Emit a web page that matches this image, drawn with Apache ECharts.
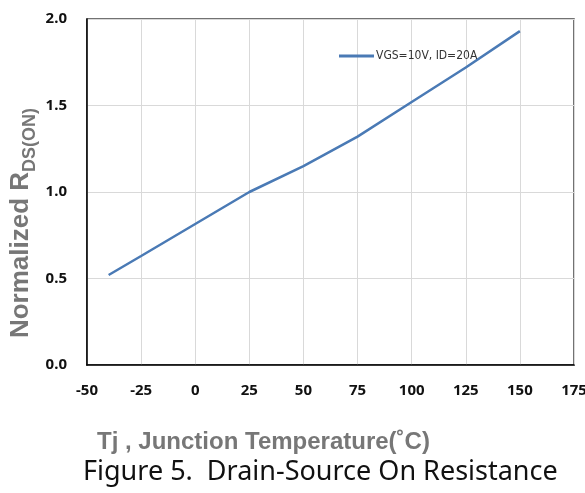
<!DOCTYPE html>
<html lang="en" style="height: 100%">
<head>
  <meta charset="utf-8">
</head>
<body style="height: 100%; margin: 0; background: #fff">
  <div id="container" style="width: 585px; height: 493px"></div>
  <script type="text/javascript" src="https://fastly.jsdelivr.net/npm/echarts@6/dist/echarts.min.js"></script>
  <script type="text/javascript">
    // Tj (°C) vs normalized Rds(on)
    const temps = [-40, -25, 0, 25, 50, 75, 100, 125, 150];
    const rdsOn = [0.52, 0.63, 0.815, 1.0, 1.15, 1.32, 1.52, 1.72, 1.93];
    const seriesName = 'VGS=10V, ID=20A';

    const narrow = '"DejaVu Sans Condensed", "Liberation Sans", sans-serif';

    var dom = document.getElementById('container');
    var myChart = echarts.init(dom, null, { renderer: 'canvas' });

    var option = {
      animation: false,
      title: [
        {
          text: 'Tj , Junction Temperature(˚C)',
          left: 92,
          top: 425,
          textStyle: { fontFamily: '"Liberation Sans", sans-serif', fontSize: 24, fontWeight: 'bold', color: '#777' }
        },
        {
          text: 'Figure 5.  Drain-Source On Resistance',
          left: 78,
          top: 454,
          textStyle: { fontFamily: '"Noto Sans", sans-serif', fontSize: 27, fontWeight: 'normal', color: '#111' }
        }
      ],
      legend: {
        left: 334,
        top: 45,
        itemWidth: 35,
        itemHeight: 3,
        itemGap: 3,
        icon: 'rect',
        data: [seriesName],
        textStyle: { fontFamily: narrow, fontSize: 12, color: '#333', padding: [0, 0, 0, -3] }
      },
      grid: {
        left: 87,
        top: 19,
        right: 11,
        bottom: 128,
        outerBoundsMode: 'none',
        containLabel: false,
        show: true,
        borderColor: '#444',
        borderWidth: 1.5
      },
      xAxis: {
        type: 'value',
        min: -50,
        max: 175,
        interval: 25,
        axisLine: { show: true, onZero: false, lineStyle: { color: '#000', width: 1.5 } },
        axisTick: { show: false },
        splitLine: { show: true, lineStyle: { color: '#d9d9d9', width: 1 } },
        axisLabel: {
          margin: 18,
          fontFamily: '"Noto Sans", sans-serif',
          fontSize: 15,
          fontWeight: 'bold',
          color: '#111'
        }
      },
      yAxis: {
        type: 'value',
        min: 0,
        max: 2,
        interval: 0.5,
        axisLine: { show: true, onZero: false, lineStyle: { color: '#000', width: 1.5 } },
        axisTick: { show: false },
        splitLine: { show: true, lineStyle: { color: '#d9d9d9', width: 1 } },
        axisLabel: {
          margin: 20,
          fontFamily: '"Noto Sans", sans-serif',
          fontSize: 15,
          fontWeight: 'bold',
          color: '#111',
          formatter: function (v) { return v.toFixed(1); }
        },
        name: '{a|Normalized R}{s|DS(ON)}',
        nameLocation: 'middle',
        nameMoveOverlap: false,
        nameGap: 53,
        nameTextStyle: {
          padding: [0, 62, 0, 0],
          rich: {
            a: { fontFamily: '"Liberation Sans", sans-serif', fontSize: 26, fontWeight: 'bold', color: '#777', verticalAlign: 'bottom', lineHeight: 32 },
            s: { fontFamily: '"Liberation Sans", sans-serif', fontSize: 18, fontWeight: 'bold', color: '#777', verticalAlign: 'bottom', lineHeight: 32, padding: [0, 0, -5, 0] }
          }
        }
      },
      series: [
        {
          name: seriesName,
          type: 'line',
          data: temps.map((t, i) => [t, rdsOn[i]]),
          symbol: 'none',
          smooth: false,
          lineStyle: { color: '#4a7ab5', width: 2.5 },
          itemStyle: { color: '#4a7ab5' }
        }
      ]
    };

    myChart.setOption(option);
    window.addEventListener('resize', myChart.resize);
  </script>
</body>
</html>
